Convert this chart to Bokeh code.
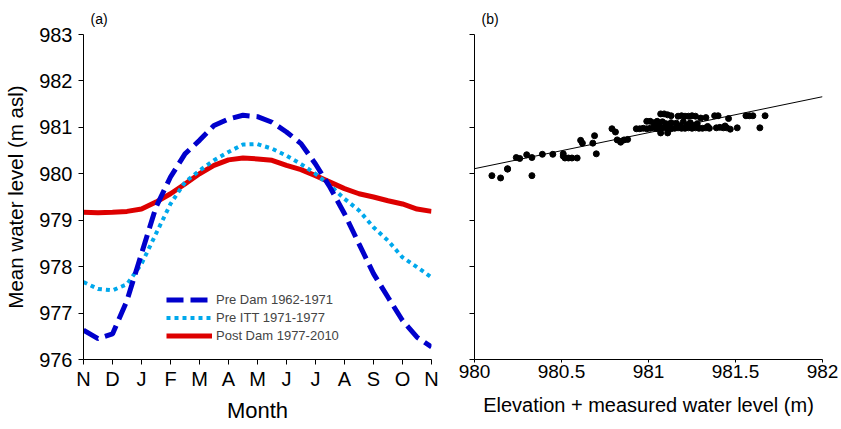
from bokeh.plotting import figure
from bokeh.layouts import row
from bokeh.models import FixedTicker, Legend, LegendItem, ColumnDataSource
from bokeh.embed import file_html
from bokeh.resources import INLINE

FONT = "Liberation Sans"

# ---- Panel (a) data: mean water level by month (half-month steps) ----
month_pos = [0, 0.5, 1, 1.5, 2, 2.5, 3, 3.5, 4, 4.5, 5, 5.5, 6, 6.5, 7, 7.5, 8, 8.5, 9, 9.5, 10, 10.5, 11, 11.5, 12]
month_ticks = [0, 1, 2, 3, 4, 5, 6, 7, 8, 9, 10, 11, 12]
month_labels = ["N", "D", "J", "F", "M", "A", "M", "J", "J", "A", "S", "O", "N"]

pre_dam = [976.63, 976.45, 976.55, 977.27, 978.28, 979.28, 979.93, 980.43, 980.72, 981.04, 981.18, 981.26,
           981.23, 981.11, 980.90, 980.65, 980.21, 979.71, 979.14, 978.49, 977.85, 977.34, 976.84, 976.48, 976.27]
pre_itt = [977.67, 977.52, 977.49, 977.62, 978.06, 978.71, 979.35, 979.82, 980.07, 980.29, 980.47, 980.63,
           980.64, 980.54, 980.39, 980.21, 980.00, 979.75, 979.46, 979.21, 978.85, 978.56, 978.20, 977.99, 977.77]
post_dam = [979.17, 979.16, 979.17, 979.19, 979.24, 979.39, 979.57, 979.78, 980.00, 980.18, 980.30, 980.34,
            980.32, 980.29, 980.18, 980.09, 979.96, 979.82, 979.68, 979.57, 979.50, 979.42, 979.35, 979.24, 979.19]

# ---- Panel (b) data: scatter ----
scatter_x = [980.10, 980.15, 980.19, 980.19, 980.24, 980.26, 980.30, 980.33, 980.33, 980.39, 980.45,
             980.51, 980.51, 980.52, 980.54, 980.56, 980.59, 980.61, 980.62, 980.68, 980.69, 980.70,
             980.79, 980.81, 980.82, 980.84, 980.86, 980.88,
             980.93, 980.95, 980.97, 980.99, 981.01, 981.03, 981.05, 981.07, 981.09, 981.11, 981.13,
             981.15, 981.17, 981.19, 981.21, 981.23, 981.25, 981.27, 981.29, 981.31, 981.33, 981.35,
             981.39, 981.41, 981.43, 981.45, 981.47, 981.51,
             980.99, 981.01, 981.03, 981.05, 981.08, 981.10, 981.13, 981.16, 981.20, 981.24, 981.28,
             981.07, 981.09, 981.11, 981.13, 981.17, 981.19, 981.21, 981.23, 981.25, 981.27,
             981.30, 981.33, 981.38, 981.40, 981.46, 981.56, 981.58, 981.60, 981.67,
             981.07, 981.11, 981.64, 981.06, 981.12, 981.18, 981.22, 981.26, 981.34, 981.44]
scatter_y = [979.96, 979.91, 980.10, 980.11, 980.35, 980.33, 980.41, 980.35, 979.96, 980.42, 980.42,
             980.43, 980.38, 980.34, 980.34, 980.34, 980.34, 980.72, 980.66, 980.66, 980.82, 980.43,
             980.97, 980.90, 980.73, 980.68, 980.73, 980.74,
             980.97, 980.97, 980.98, 980.97, 980.98, 980.99, 980.97, 980.98, 980.99, 980.98, 980.97,
             980.98, 980.99, 980.98, 980.98, 980.99, 980.98, 980.99, 980.98, 980.98, 980.99, 980.98,
             980.99, 981.00, 980.99, 980.99, 980.96, 980.99,
             981.13, 981.13, 981.10, 981.13, 981.12, 981.08, 981.10, 981.09, 981.12, 981.10, 981.08,
             981.29, 981.29, 981.27, 981.25, 981.24, 981.25, 981.24, 981.24, 981.25, 981.24,
             981.20, 981.21, 981.25, 981.25, 981.19, 981.25, 981.25, 981.25, 981.25,
             980.88, 980.88, 980.99, 981.04, 981.04, 981.03, 981.05, 981.04, 981.02, 981.03]
fit_x = [980.0, 982.0]
fit_y = [980.11, 981.66]

x2_ticks = [980, 980.5, 981, 981.5, 982]
x2_labels = ["980", "980.5", "981", "981.5", "982"]
y_ticks = [976, 977, 978, 979, 980, 981, 982, 983]

DARK_BLUE = "#0000CC"
LIGHT_BLUE = "#00A8EC"
RED = "#DD0000"

H = 429


def style_axes(p):
    p.outline_line_color = None
    p.xgrid.grid_line_color = None
    p.ygrid.grid_line_color = None
    for ax in (p.xaxis[0], p.yaxis[0]):
        ax.axis_line_color = "black"
        ax.axis_line_width = 1
        ax.major_tick_line_color = "black"
        ax.major_tick_out = 5
        ax.major_tick_in = 0
        ax.minor_tick_line_color = None
        ax.major_label_text_font = FONT
        ax.axis_label_text_font = FONT
        ax.axis_label_text_font_style = "normal"
        ax.major_label_text_color = "black"
        ax.axis_label_text_color = "black"
    p.title.text_font = FONT
    p.title.text_font_style = "normal"
    p.title.text_font_size = "14px"
    p.title.text_color = "black"


# ---- Panel (a) ----
p1 = figure(width=440, height=H, x_range=(0, 12), y_range=(976, 983),
            output_backend="svg", toolbar_location=None,
            min_border_left=83, min_border_right=9, min_border_top=34, min_border_bottom=70,
            title="(a)")
style_axes(p1)
p1.title.offset = 7
p1.title.standoff = 15

src = ColumnDataSource(dict(m=month_pos, pre=pre_dam, itt=pre_itt, post=post_dam))
r_post = p1.line("m", "post", source=src, line_color=RED, line_width=5)
r_itt = p1.line("m", "itt", source=src, line_color=LIGHT_BLUE, line_width=4, line_dash="4 4")
r_pre = p1.line("m", "pre", source=src, line_color=DARK_BLUE, line_width=5, line_dash="17 7")

p1.xaxis.ticker = FixedTicker(ticks=month_ticks)
p1.xaxis.major_label_overrides = {t: l for t, l in zip(month_ticks, month_labels)}
p1.xaxis.major_label_text_font_size = "20px"
p1.xaxis.major_label_standoff = 3
p1.xaxis.axis_label = "Month"
p1.xaxis.axis_label_text_font_size = "22px"
p1.xaxis.axis_label_standoff = 5
p1.yaxis.ticker = FixedTicker(ticks=y_ticks)
p1.yaxis.major_label_text_font_size = "20px"
p1.yaxis.major_label_standoff = 6
p1.yaxis.axis_label = "Mean water level (m asl)"
p1.yaxis.axis_label_text_font_size = "20.5px"
p1.yaxis.axis_label_standoff = 9

legend = Legend(items=[LegendItem(label="Pre Dam 1962-1971", renderers=[r_pre]),
                       LegendItem(label="Pre ITT 1971-1977", renderers=[r_itt]),
                       LegendItem(label="Post Dam 1977-2010", renderers=[r_post])],
                location=(83, 15), padding=0, margin=0, spacing=1,
                glyph_width=46, glyph_height=17, label_height=17,
                label_text_font=FONT, label_text_font_size="13px", label_standoff=4,
                border_line_color=None, background_fill_alpha=0)
p1.add_layout(legend)

# ---- Panel (b) ----
p2 = figure(width=401, height=H, x_range=(980, 982), y_range=(976, 983),
            output_backend="svg", toolbar_location=None,
            min_border_left=34, min_border_right=19, min_border_top=34, min_border_bottom=70,
            title="(b)")
style_axes(p2)
p2.title.offset = 7
p2.title.standoff = 15

p2.line(fit_x, fit_y, line_color="black", line_width=1)
p2.scatter(scatter_x, scatter_y, size=6, color="black")

p2.xaxis.ticker = FixedTicker(ticks=x2_ticks)
p2.xaxis.major_label_overrides = {t: l for t, l in zip(x2_ticks, x2_labels)}
p2.xaxis.major_label_text_font_size = "19px"
p2.xaxis.major_tick_out = 3
p2.xaxis.major_label_standoff = 2
p2.xaxis.axis_label = "Elevation + measured water level (m)"
p2.xaxis.axis_label_text_font_size = "20px"
p2.xaxis.axis_label_standoff = 13
p2.yaxis.ticker = FixedTicker(ticks=y_ticks)
p2.yaxis.major_label_overrides = {t: "" for t in y_ticks}
p2.yaxis.major_label_standoff = 0

layout = row(p1, p2, spacing=0)
open("out.html", "w").write(file_html(layout, INLINE))
